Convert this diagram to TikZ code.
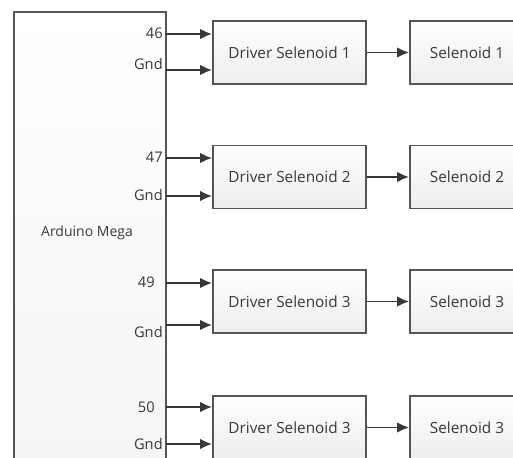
\documentclass[tikz,border=0pt]{standalone}
\usepackage{fontspec}
\setmainfont{Open Sans}
\usepackage{tikz}
\usetikzlibrary{arrows.meta}

\definecolor{linegray}{HTML}{555555}
\definecolor{textgray}{HTML}{383838}

\begin{document}
\begin{tikzpicture}[x=0.75pt,y=-0.75pt,line width=1.4pt,
  box/.style={draw=linegray,top color=white,bottom color=gray!14,inner sep=0pt,
    minimum width=114.75pt,minimum height=47.25pt,font=\fontsize{11.5}{13}\selectfont,text=textgray},
  pinlabel/.style={anchor=east,inner sep=1pt,font=\fontsize{11}{13}\selectfont,text=textgray},
  arr/.style={draw=textgray,-{Latex[length=9pt,width=8pt]}}]

\useasboundingbox (0,0) rectangle (513,457);
\clip (0,0) rectangle (513,457);

% Arduino board, runs off the bottom of the picture.
\node[draw=linegray,top color=white,bottom color=gray!8,minimum width=114pt,minimum height=345pt] (mega) at (90,242) {};
\node[text=textgray,font=\fontsize{10.5}{12}\selectfont] (megalabel) at (87,233) {Arduino Mega};

% Drivers and selenoids.
\node[box] (drv1) at (289.5,52.5) {Driver Selenoid 1};
\node[box] (drv2) at (289.5,177) {Driver Selenoid 2};
\node[box] (drv3) at (289.5,301.5) {Driver Selenoid 3};
\node[box] (drv4) at (289.5,427.5) {Driver Selenoid 3};

\node[box,minimum width=85.5pt] (sol1) at (467,52.5) {Selenoid 1};
\node[box,minimum width=85.5pt] (sol2) at (467,177) {Selenoid 2};
\node[box,minimum width=85.5pt] (sol3) at (467,301.5) {Selenoid 3};
\node[box,minimum width=85.5pt] (sol4) at (467,427.5) {Selenoid 3};

% Pins on the right side of the board.
\coordinate (p46) at (166,34);
\coordinate (g1) at (166,70);
\coordinate (p47) at (166,158);
\coordinate (g2) at (166,196);
\coordinate (p49) at (166,283);
\coordinate (g3) at (166,325);
\coordinate (p50) at (166,407);
\coordinate (g4) at (166,444);

\node[pinlabel] (l46) at (165,33) {46};
\node[pinlabel] (lg1) at (165,64) {Gnd};
\node[pinlabel] (l47) at (165,157) {47};
\node[pinlabel] (lg2) at (165,195) {Gnd};
\node[pinlabel] (l49) at (157,282) {49};
\node[pinlabel] (lg3) at (165,332) {Gnd};
\node[pinlabel] (l50) at (157,407) {50};
\node[pinlabel] (lg4) at (165,444) {Gnd};

% Board to drivers.
\draw[arr] (p46) -- (p46 -| drv1.west);
\draw[arr] (g1) -- (g1 -| drv1.west);
\draw[arr] (p47) -- (p47 -| drv2.west);
\draw[arr] (g2) -- (g2 -| drv2.west);
\draw[arr] (p49) -- (p49 -| drv3.west);
\draw[arr] (g3) -- (g3 -| drv3.west);
\draw[arr] (p50) -- (p50 -| drv4.west);
\draw[arr] (g4) -- (g4 -| drv4.west);

% Drivers to selenoids.
\draw[arr] (drv1) -- (sol1);
\draw[arr] (drv2) -- (sol2);
\draw[arr] (drv3) -- (sol3);
\draw[arr] (drv4) -- (sol4);

\end{tikzpicture}
\end{document}
